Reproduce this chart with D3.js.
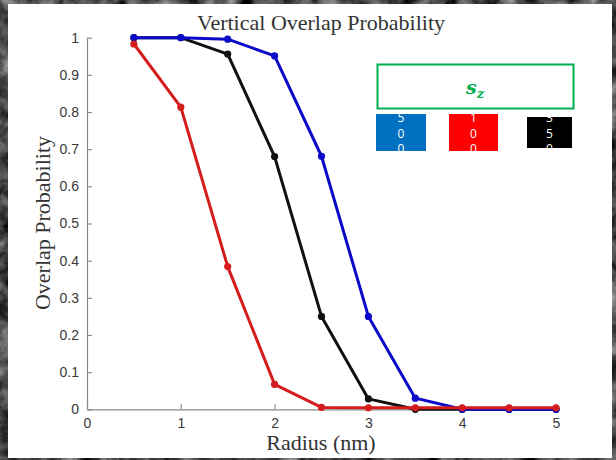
<!DOCTYPE html>
<html>
<head>
<meta charset="utf-8">
<script src="https://cdn.jsdelivr.net/npm/d3@7"></script>
<style>
  html, body { margin: 0; padding: 0; background: #333; }
  svg { display: block; }
</style>
</head>
<body>
<svg id="chart" width="616" height="460"></svg>
<script>
// Radius values (nm) shared by every curve
const radius = [0.5, 1, 1.5, 2, 2.5, 3, 3.5, 4, 4.5, 5];

// Overlap probability per curve
const blueValues  = [1.0, 1.0, 0.996, 0.951, 0.681, 0.25, 0.03, 0.0, 0.0, 0.0];
const blackValues = [1.0, 1.0, 0.956, 0.68, 0.25, 0.028, 0.0, 0.0, 0.0, 0.0];
const redValues   = [0.983, 0.813, 0.384, 0.067, 0.005, 0.004, 0.004, 0.004, 0.004, 0.004];

// Tick labels
const xTicks = [0, 1, 2, 3, 4, 5];
const yTicks = [0, 0.1, 0.2, 0.3, 0.4, 0.5, 0.6, 0.7, 0.8, 0.9, 1];

// Legend swatch labels (stacked digits)
const legendLabels = ["500", "100", "350"];

const svg = d3.select("#chart");
const W = 616, H = 460;

// Dark grainy backdrop
const defs = svg.append("defs");
const f = defs.append("filter").attr("id", "grain")
  .attr("x", 0).attr("y", 0).attr("width", "100%").attr("height", "100%")
  .attr("color-interpolation-filters", "sRGB");
f.append("feTurbulence").attr("type", "fractalNoise")
  .attr("baseFrequency", "0.05").attr("numOctaves", 5).attr("seed", 7);
f.append("feColorMatrix").attr("type", "matrix")
  .attr("values", "0.6 0.6 0.6 0 -0.62  0.6 0.6 0.6 0 -0.62  0.6 0.6 0.6 0 -0.62  0 0 0 0 1");
svg.append("rect").attr("width", W).attr("height", H).attr("fill", "#222");
svg.append("rect").attr("width", W).attr("height", H).attr("filter", "url(#grain)");

// White figure panel
svg.append("rect").attr("x", 8).attr("y", 4).attr("width", 604).attr("height", 454).attr("fill", "#ffffff");

// Scales
const x = d3.scaleLinear().domain([0, 5]).range([87, 556]);
const y = d3.scaleLinear().domain([0, 1]).range([409.3, 37.7]);

const axisColor = "#8a8a8a";
const tickFont = "'Liberation Sans', Arial, sans-serif";
const serif = "'Liberation Serif', 'Times New Roman', serif";

// Axes: inward ticks, left and bottom only
const xAxis = d3.axisBottom(x).tickValues(xTicks).tickSizeInner(-5).tickSizeOuter(0)
  .tickPadding(9).tickFormat(d3.format("d"));
const yAxis = d3.axisLeft(y).tickValues(yTicks).tickSizeInner(-5).tickSizeOuter(0)
  .tickPadding(8).tickFormat(d => d === 0 || d === 1 ? d3.format("d")(d) : d3.format(".1f")(d));

const gx = svg.append("g").attr("transform", `translate(0,${y(0)})`).call(xAxis);
const gy = svg.append("g").attr("transform", `translate(${x(0)},0)`).call(yAxis);
[gx, gy].forEach(g => {
  g.select(".domain").attr("stroke", axisColor).attr("stroke-width", 1.2);
  g.selectAll(".tick line").attr("stroke", axisColor).attr("stroke-width", 1.2);
  g.selectAll(".tick text").attr("fill", "#3a3a3a").attr("font-family", tickFont).attr("font-size", 14);
});

// Curves
const series = [
  { values: blackValues, color: "#111111" },
  { values: blueValues,  color: "#0a0ac8" },
  { values: redValues,   color: "#d41c1c" }
];
const line = d3.line().x(d => x(d[0])).y(d => y(d[1]));
series.forEach(s => {
  const pts = radius.map((r, i) => [r, s.values[i]]);
  svg.append("path").datum(pts).attr("d", line)
    .attr("fill", "none").attr("stroke", s.color).attr("stroke-width", 3)
    .attr("stroke-linejoin", "round");
  svg.append("g").selectAll("circle").data(pts).join("circle")
    .attr("cx", d => x(d[0])).attr("cy", d => y(d[1])).attr("r", 3.6)
    .attr("fill", s.color);
});

// Titles
svg.append("text").attr("x", 321).attr("y", 30).attr("text-anchor", "middle")
  .attr("font-family", serif).attr("font-size", 22).attr("fill", "#333")
  .text("Vertical Overlap Probability");
svg.append("text").attr("x", 321).attr("y", 450).attr("text-anchor", "middle")
  .attr("font-family", serif).attr("font-size", 22).attr("fill", "#333")
  .text("Radius (nm)");
svg.append("text").attr("transform", "translate(50,223) rotate(-90)").attr("text-anchor", "middle")
  .attr("font-family", serif).attr("font-size", 22).attr("fill", "#333")
  .text("Overlap Probability");

// Legend header box
svg.append("rect").attr("x", 377.5).attr("y", 64.5).attr("width", 196).attr("height", 44)
  .attr("fill", "#fff").attr("stroke", "#00b050").attr("stroke-width", 2);
const sz = svg.append("text").attr("x", 475).attr("y", 94).attr("text-anchor", "middle")
  .attr("font-family", "'DejaVu Serif', serif").attr("font-style", "italic").attr("font-weight", "bold")
  .attr("fill", "#00b050");
sz.append("tspan").attr("font-size", 19).text("s");
sz.append("tspan").attr("font-size", 13).attr("dy", 4).text("z");

// Legend swatches with stacked, clipped digits
const swatches = [
  { x: 376, y: 114, w: 50, h: 37, fill: "#0070c0", label: legendLabels[0] },
  { x: 449, y: 114, w: 49, h: 37, fill: "#ff0000", label: legendLabels[1] },
  { x: 527, y: 117, w: 45, h: 31, fill: "#000000", label: legendLabels[2] }
];
swatches.forEach((s, i) => {
  defs.append("clipPath").attr("id", "clip" + i).append("rect")
    .attr("x", s.x).attr("y", s.y).attr("width", s.w).attr("height", s.h);
  svg.append("rect").attr("x", s.x).attr("y", s.y).attr("width", s.w).attr("height", s.h).attr("fill", s.fill);
  const t = svg.append("text").attr("clip-path", `url(#clip${i})`)
    .attr("text-anchor", "middle").attr("font-family", "'Open Sans', sans-serif")
    .attr("font-size", 12).attr("fill", "#fff");
  s.label.split("").forEach((c, k) => {
    t.append("tspan").attr("x", s.x + s.w / 2).attr("y", 122 + k * 15.5).text(c);
  });
});
</script>
</body>
</html>
